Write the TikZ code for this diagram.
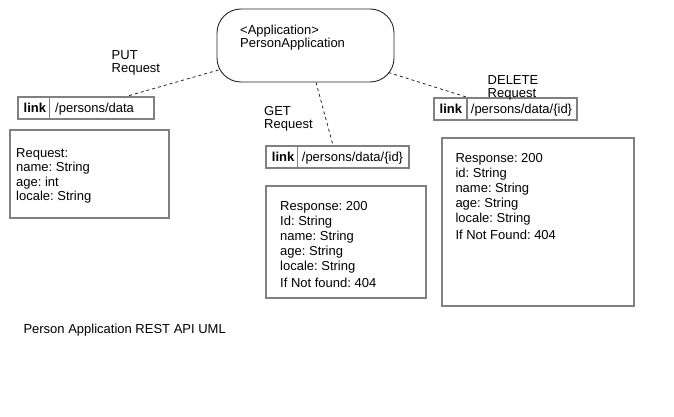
\documentclass[tikz,border=0pt]{standalone}
\usepackage{fontspec}
\setmainfont{Liberation Sans}
\frenchspacing
\newcommand{\lines}[1]{\begin{tabular}[t]{@{}l@{}}#1\end{tabular}}
\begin{document}
\begin{tikzpicture}[x=1pt,y=-1pt,
  appbox/.style={draw=black!85,line width=0.9pt,rounded corners=24pt,minimum width=177pt,minimum height=73pt,inner sep=0pt},
  linkbox/.style={draw=black!50,line width=1.6pt,minimum height=22pt,inner sep=0pt},
  databox/.style={draw=black!50,line width=1.6pt,inner sep=0pt},
  txt/.style={anchor=base west,inner sep=0pt,font=\fontsize{13pt}{15pt}\selectfont},
  lbl/.style={anchor=base west,inner sep=0pt,font=\fontsize{13pt}{12.5pt}\selectfont},
  conn/.style={dashed,line width=0.8pt,black!85}]
\useasboundingbox (0,0) rectangle (674,417);
% application
\node[appbox] (app) at (305.5,45.5) {};
\node[lbl] (apptxt) at (240,34.3) {\lines{<Application>\\PersonApplication}};
% PUT
\node[linkbox,minimum width=136pt] (putlink) at (86,108) {};
\draw[black!50,line width=1.2pt] ([xshift=32pt]putlink.north west) -- ([xshift=32pt]putlink.south west);
\node[txt,font=\fontsize{13pt}{15pt}\selectfont\bfseries] (putk) at (23.5,112.5) {link};
\node[txt] (putp) at (55,112.5) {/persons/data};
\node[databox,minimum width=159pt,minimum height=88pt] (putbox) at (89.5,174) {};
\node[txt,font=\fontsize{13pt}{14.5pt}\selectfont] (puttxt) at (16,157) {\lines{Request:\\name: String\\age: int\\locale: String}};
\node[lbl] (putlbl) at (111.5,60) {\lines{PUT\\Request}};
% GET
\node[linkbox,minimum width=143pt] (getlink) at (337.5,157) {};
\draw[black!50,line width=1.2pt] ([xshift=32pt]getlink.north west) -- ([xshift=32pt]getlink.south west);
\node[txt,font=\fontsize{13pt}{15pt}\selectfont\bfseries] (getk) at (271.7,161.5) {link};
\node[txt] (getp) at (301.7,161.5) {/persons/data/\{id\}};
\node[databox,minimum width=160pt,minimum height=112pt] (getbox) at (346,242) {};
\node[txt] (gettxt) at (280,210.7) {\lines{Response: 200\\Id: String\\name: String\\age: String\\locale: String\\[2pt]If Not found: 404}};
\node[lbl] (getlbl) at (264,116) {\lines{GET\\Request}};
% DELETE
\node[linkbox,minimum width=143pt] (dellink) at (505.5,109) {};
\draw[black!50,line width=1.2pt] ([xshift=-38.5pt]dellink.north) -- ([xshift=-38.5pt]dellink.south);
\node[txt,font=\fontsize{13pt}{15pt}\selectfont\bfseries] (delk) at (439.5,113.5) {link};
\node[txt] (delp) at (470.7,113.5) {/persons/data/\{id\}};
\node[databox,minimum width=192pt,minimum height=168pt] (delbox) at (538,222) {};
\node[txt] (deltxt) at (455.3,162.7) {\lines{Response: 200\\id: String\\name: String\\age: String\\locale: String\\[2pt]If Not Found: 404}};
\node[lbl] (dellbl) at (487.5,84.5) {\lines{DELETE\\Request}};
% connectors
\draw[conn] ([xshift=2pt,yshift=-24.5pt]app.west) -- ([xshift=41pt]putlink.north);
\draw[conn] ([xshift=10.5pt]app.south) -- ([xshift=-4.5pt]getlink.north);
\draw[conn] ([xshift=-6pt,yshift=-27pt]app.east) -- ([xshift=-38.5pt]dellink.north);
% caption
\node[txt] (caption) at (23.3,333) {Person Application REST API UML};
\end{tikzpicture}
\end{document}
